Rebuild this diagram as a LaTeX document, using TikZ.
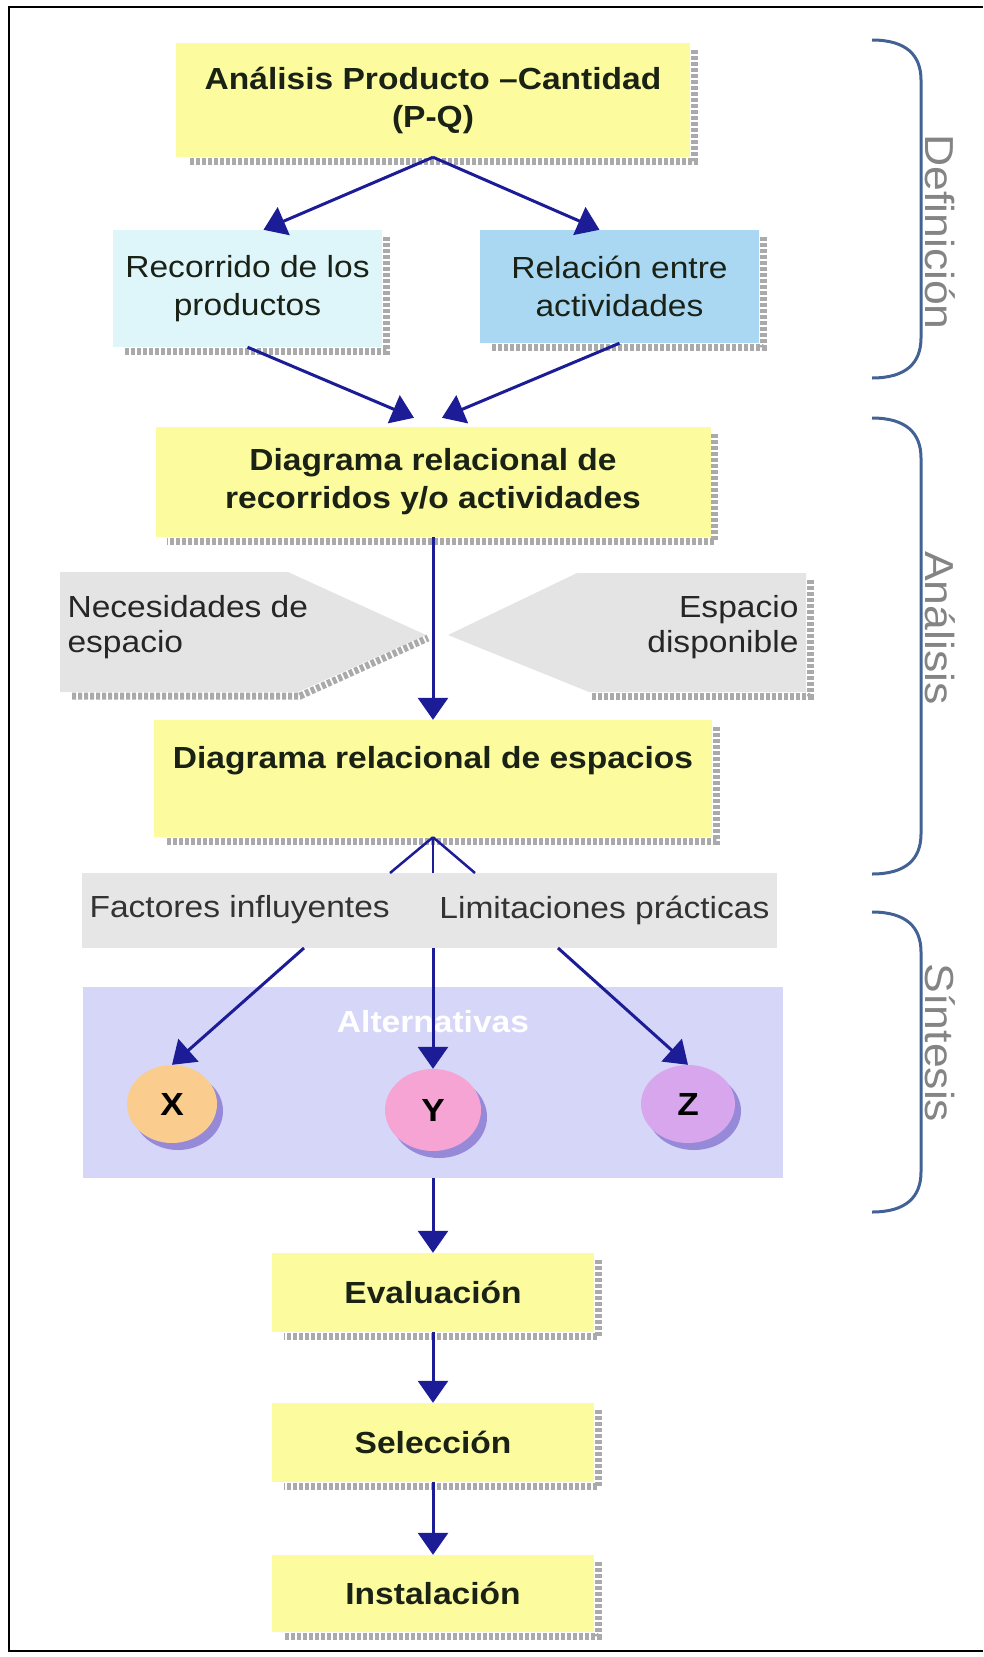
\documentclass[tikz,border=0pt]{standalone}
\usepackage{fontspec}
\setmainfont{Liberation Sans}[FakeStretch=1.1]
\usetikzlibrary{arrows.meta, calc, shapes.geometric, shadows}
\definecolor{boxyel}{RGB}{252,252,158}
\definecolor{boxcyan}{RGB}{222,246,250}
\definecolor{boxblue}{RGB}{170,216,243}
\definecolor{gshape}{RGB}{228,228,228}
\definecolor{gband}{RGB}{230,230,230}
\definecolor{altband}{RGB}{214,214,248}
\definecolor{flowcol}{RGB}{28,28,150}
\definecolor{bracecol}{RGB}{66,98,150}
\definecolor{phasecol}{RGB}{132,132,132}
\definecolor{shdcol}{RGB}{170,170,170}
\definecolor{txtcol}{RGB}{26,34,22}
\definecolor{xcol}{RGB}{250,204,142}
\definecolor{ycol}{RGB}{246,164,212}
\definecolor{zcol}{RGB}{216,166,236}
\definecolor{discsh}{RGB}{128,112,206}
\newcommand{\boxfont}{\fontsize{30.5}{38}\selectfont}
\newcommand{\phasefont}{\fontsize{40.5}{44}\selectfont}
\tikzset{
  blk/.style={rectangle, inner sep=0pt, align=center, font=\boxfont, text=txtcol},
  ybox/.style={blk, fill=boxyel, font=\boxfont\bfseries},
  flow/.style={->, >={Triangle[width=30pt,length=22pt]}, line width=3pt, draw=flowcol},
  feed/.style={line width=2.5pt, draw=flowcol},
  shd/.style={line width=7pt, draw=shdcol, dash pattern=on 4pt off 2pt},
  disc/.style={ellipse, inner sep=0pt, font=\fontsize{32}{32}\selectfont\bfseries, text=black,
    drop shadow={shadow xshift=6pt, shadow yshift=-7pt, fill=discsh, opacity=0.75}},
  brc/.style={line width=3pt, draw=bracecol},
  phase/.style={rotate=-90, font=\phasefont, text=phasecol},
  gtxt/.style={font=\fontsize{30.5}{35}\selectfont, text=black!85}
}
\newcommand{\stripe}[1]{\draw[shd] ($(#1.north east)+(4,7)$) -- ($(#1.south east)+(4,4)$) -- ($(#1.south west)+(12,4)$);}
\newcommand{\phasebrace}[2]{\draw[brc] (872,#1) .. controls (906,#1) and (921,#1+15) .. (921,#1+40) -- (921,#2-40) .. controls (921,#2-15) and (906,#2) .. (872,#2);}

\begin{document}
\begin{tikzpicture}[x=1pt, y=-1pt]
  \useasboundingbox (0,0) rectangle (983,1657);
  \draw[line width=2pt] (983,7) -- (9,7) -- (9,1651) -- (983,1651);

  % definicion
  \node[ybox, minimum width=514pt, minimum height=114pt] (pq) at (433,100) {Análisis Producto –Cantidad\\(P-Q)};
  \node[blk, fill=boxcyan, minimum width=269pt, minimum height=117pt] (rec) at (247.5,288.5) {Recorrido de los\\productos};
  \node[blk, fill=boxblue, minimum width=279pt, minimum height=113pt] (rel) at (619.5,286.5) {Relación entre\\actividades};
  \stripe{pq} \stripe{rec} \stripe{rel}

  % analisis
  \node[ybox, minimum width=555pt, minimum height=110pt] (drr) at (433,482) {Diagrama relacional de\\recorridos y/o actividades};
  \stripe{drr}
  \fill[gshape] (60,572) -- (288,572) -- (426,635) -- (298,692) -- (60,692) -- cycle;
  \fill[gshape] (577,573) -- (806,573) -- (806,692) -- (589,692) -- (448,635) -- cycle;
  \draw[shd] (72,696) -- (300,696) -- (428,638);
  \draw[shd] (810,580) -- (810,696) -- (592,696);
  \node[gtxt, anchor=west, align=left] (nec) at (64,627) {Necesidades de\\espacio};
  \node[gtxt, anchor=east, align=right] (esp) at (802,627) {Espacio\\disponible};
  \node[ybox, minimum width=558pt, minimum height=117pt, text height=22pt, text depth=43pt] (dre) at (433,778.5) {Diagrama relacional de espacios};
  \stripe{dre}

  % sintesis
  \node[fill=gband, minimum width=695pt, minimum height=75pt, inner sep=0pt] (fac) at (429.5,910.5) {};
  \node[gtxt, anchor=west, text=black!80] (fin) at (86,910) {Factores influyentes};
  \node[gtxt, anchor=east, text=black!80] (lim) at (773,910) {Limitaciones prácticas};
  \node[fill=altband, minimum width=700pt, minimum height=191pt, inner sep=0pt] (alt) at (433,1082.5) {};
  \node[font=\boxfont\bfseries, text=white] (altlab) at (433,1022) {Alternativas};
  \node[disc, fill=xcol, minimum width=90pt, minimum height=78pt] (dx) at (172,1104) {X};
  \node[disc, fill=ycol, minimum width=96pt, minimum height=82pt] (dy) at (433,1110) {Y};
  \node[disc, fill=zcol, minimum width=94pt, minimum height=78pt] (dz) at (688,1104) {Z};
  \coordinate (fl) at (390,873);
  \coordinate (fc) at (433,873);
  \coordinate (fr) at (475,873);
  \coordinate (fx) at (304,948);
  \coordinate (fy) at (433,948);
  \coordinate (fz) at (558,948);

  % evaluacion
  \node[ybox, minimum width=322pt, minimum height=79pt] (eva) at (433,1292.5) {Evaluación};
  \node[ybox, minimum width=322pt, minimum height=79pt] (sel) at (433,1442.5) {Selección};
  \node[ybox, minimum width=322pt, minimum height=77pt] (ins) at (433,1593.5) {Instalación};
  \stripe{eva} \stripe{sel} \stripe{ins}

  % conectores
  \draw[flow] (pq.south) -- ($(rec.north)+(16,0)$);
  \draw[flow] (pq.south) -- ($(rel.north)+(-20,0)$);
  \draw[flow] (rec.south) -- ($(drr.north)+(-19,-9)$);
  \draw[flow] (rel.south) -- ($(drr.north)+(9,-9)$);
  \draw[flow] (drr) -- (dre);
  \draw[feed] (fl) -- (dre.south);
  \draw[feed] (fc) -- (dre.south);
  \draw[feed] (fr) -- (dre.south);
  \draw[flow] (fx) -- (dx.north);
  \draw[flow] (fy) -- (dy.north);
  \draw[flow] (fz) -- (dz.north);
  \draw[flow] (alt) -- (eva);
  \draw[flow] (eva) -- (sel);
  \draw[flow] (sel) -- (ins);

  % fases
  \phasebrace{40}{378}
  \phasebrace{418}{874}
  \phasebrace{912}{1212}
  \node[phase] (pdef) at (940,232) {Definición};
  \node[phase] (pana) at (940,628) {Análisis};
  \node[phase] (psin) at (940,1043) {Síntesis};
\end{tikzpicture}
\end{document}
